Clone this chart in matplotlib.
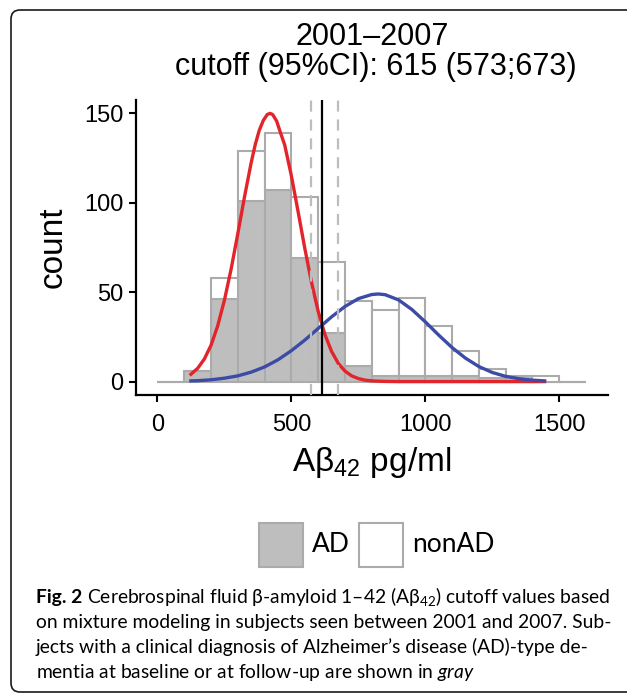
import matplotlib.pyplot as plt
from matplotlib.patches import FancyBboxPatch, Rectangle

plt.rcParams['font.family'] = ['Liberation Sans', 'DejaVu Sans']
plt.rcParams['mathtext.fontset'] = 'custom'
plt.rcParams['mathtext.rm'] = 'Lato'
plt.rcParams['mathtext.bf'] = 'Lato:bold'
plt.rcParams['mathtext.it'] = 'Lato:italic'

W, H = 627, 693

# histogram bins (width 100) and stacked counts
bin_left = [0, 100, 200, 300, 400, 500, 600, 700, 800, 900, 1000, 1100, 1200, 1300, 1400, 1500]
bin_width = 100
ad_counts = [0, 6, 46, 101, 107, 69, 27, 9, 3, 3, 3, 3, 2, 3, 0, 0]
nonad_counts = [0, 0, 12, 28, 32, 34, 40, 36, 37, 44, 28, 14, 5, 0, 3, 0]

# fitted mixture components
red_x = [125, 150, 175, 200, 225, 250, 275, 300, 325, 350, 365, 380, 395, 410, 420, 430,
         445, 460, 475, 500, 525, 550, 575, 600, 625, 650, 675, 700, 725, 750, 775, 800,
         850, 900, 1000, 1100, 1200, 1300, 1445]
red_y = [4.1, 7.4, 12.6, 20.3, 31.2, 45.5, 62.9, 82.7, 103.3, 122.5, 132.5, 140.5, 146.0,
         149.4, 150.0, 149.4, 145.7, 138.9, 132.4, 115.1, 95.1, 74.6, 55.6, 39.3, 26.4,
         16.9, 10.2, 5.9, 3.2, 1.7, 0.8, 0.4, 0.1, 0.0, 0.0, 0.0, 0.0, 0.0, 0.0]
blue_x = [125, 150, 200, 250, 300, 350, 400, 450, 500, 550, 600, 650, 700, 750, 800, 825,
          850, 900, 950, 1000, 1050, 1100, 1150, 1200, 1250, 1300, 1350, 1400, 1445]
blue_y = [0.4, 0.5, 1.0, 1.9, 3.2, 5.3, 8.2, 12.2, 17.3, 23.2, 29.7, 36.2, 42.0, 46.4, 48.7,
          49.0, 48.6, 45.7, 40.3, 33.4, 26.0, 19.0, 13.1, 8.4, 5.1, 2.9, 1.6, 0.8, 0.4]

cutoff = 615
ci_low, ci_high = 573, 673

x_ticks = [0, 500, 1000, 1500]
y_ticks = [0, 50, 100, 150]

fig = plt.figure(figsize=(W / 100, H / 100), dpi=100)


def fx(px):
    return px / W


def fy(py):
    return 1 - py / H


ax = fig.add_axes([fx(136), fy(395), (607.5 - 136) / W, (395 - 100) / H])

edge = '#ABABAB'
ax.bar(bin_left, ad_counts, width=bin_width, align='edge', color='#BEBEBE',
       edgecolor=edge, linewidth=1.5, zorder=2)
ax.bar(bin_left, nonad_counts, bottom=ad_counts, width=bin_width, align='edge',
       color='white', edgecolor=edge, linewidth=1.5, zorder=2)

ax.plot(red_x, red_y, color='#E3242B', lw=2.4, zorder=3, solid_joinstyle='round')
ax.plot(blue_x, blue_y, color='#3B4BA6', lw=2.4, zorder=3, solid_joinstyle='round')

ax.axvline(ci_low, color='#BDBDBD', lw=1.6, ls=(0, (5, 3.5)), zorder=4)
ax.axvline(ci_high, color='#BDBDBD', lw=1.6, ls=(0, (5, 3.5)), zorder=4)
ax.axvline(cutoff, color='black', lw=1.6, zorder=5)

# ggplot-like 5% expansion
x_lo, x_hi = bin_left[0], bin_left[-1] + bin_width
totals = [a + b for a, b in zip(ad_counts, nonad_counts)]
y_hi = max(max(totals), max(red_y), max(blue_y))
ax.set_xlim(x_lo - 0.05 * (x_hi - x_lo), x_hi + 0.05 * (x_hi - x_lo))
ax.set_ylim(-0.05 * y_hi, y_hi * 1.05)

ax.set_xticks(x_ticks)
ax.set_yticks(y_ticks)
for s in ['top', 'right']:
    ax.spines[s].set_visible(False)
for s in ['left', 'bottom']:
    ax.spines[s].set_linewidth(1.6)
ax.tick_params(length=5, width=1.5, labelsize=17, pad=4, colors='black')
ax.tick_params(axis='x', pad=9)

ax.set_xlabel('A\u03b2$\\mathregular{_{42}}$ pg/ml', fontsize=24, labelpad=6)
ax.set_ylabel('count', fontsize=24, labelpad=11)

fig.text(fx(372), fy(37), '2001\u20132007', fontsize=22, ha='center', va='center')
fig.text(fx(376), fy(67), f'cutoff (95%CI): {cutoff} ({ci_low};{ci_high})', fontsize=22,
         ha='center', va='center')

# legend
fig.patches.append(Rectangle((259 / 100, (H - 567) / 100), 0.44, 0.44,
                             transform=fig.dpi_scale_trans, facecolor='#BEBEBE',
                             edgecolor=edge, lw=1.5))
fig.patches.append(Rectangle((359 / 100, (H - 567) / 100), 0.44, 0.44,
                             transform=fig.dpi_scale_trans, facecolor='white',
                             edgecolor=edge, lw=1.5))
fig.text(fx(312), fy(545), 'AD', fontsize=19, family='Lato', va='center')
fig.text(fx(412), fy(545), 'nonAD', fontsize=19, family='Lato', va='center')

# caption
cap_head = 'Fig. 2'
caption = [
    'Cerebrospinal fluid \u03b2-amyloid 1\u201342 (A\u03b2$_{42}$) cutoff values based',
    'on mixture modeling in subjects seen between 2001 and 2007. Sub-',
    'jects with a clinical diagnosis of Alzheimer\u2019s disease (AD)-type de-',
    'mentia at baseline or at follow-up are shown in $\\mathit{gray}$',
]
x0 = 36
head = fig.text(fx(x0), fy(603), cap_head, fontsize=13, family='Lato', fontweight='bold',
                va='baseline')
cap_texts = []
for i, line in enumerate(caption):
    t = fig.text(fx(x0), fy(603 + 25 * i), line, fontsize=13, family='Lato', va='baseline')
    cap_texts.append(t)


def layout(fs):
    head.set_fontsize(fs)
    for t in cap_texts:
        t.set_fontsize(fs)
    fig.canvas.draw()
    r = fig.canvas.get_renderer()
    hw = head.get_window_extent(r).width
    cap_texts[0].set_x(fx(x0 + hw + 0.26 * fs * 100 / 72))
    fig.canvas.draw()
    return cap_texts[0].get_window_extent(r).x1 - x0


w = layout(13)
layout(13 * (610 - x0) / w)

# rounded frame around the figure panel
fig.patches.append(FancyBboxPatch((11 / 100, 1 / 100), 6.3, 6.82,
                                  boxstyle='round,pad=0,rounding_size=0.09',
                                  transform=fig.dpi_scale_trans, facecolor='none',
                                  edgecolor='#1a1a1a', lw=1.2))

fig.savefig('out.png', dpi=100)
